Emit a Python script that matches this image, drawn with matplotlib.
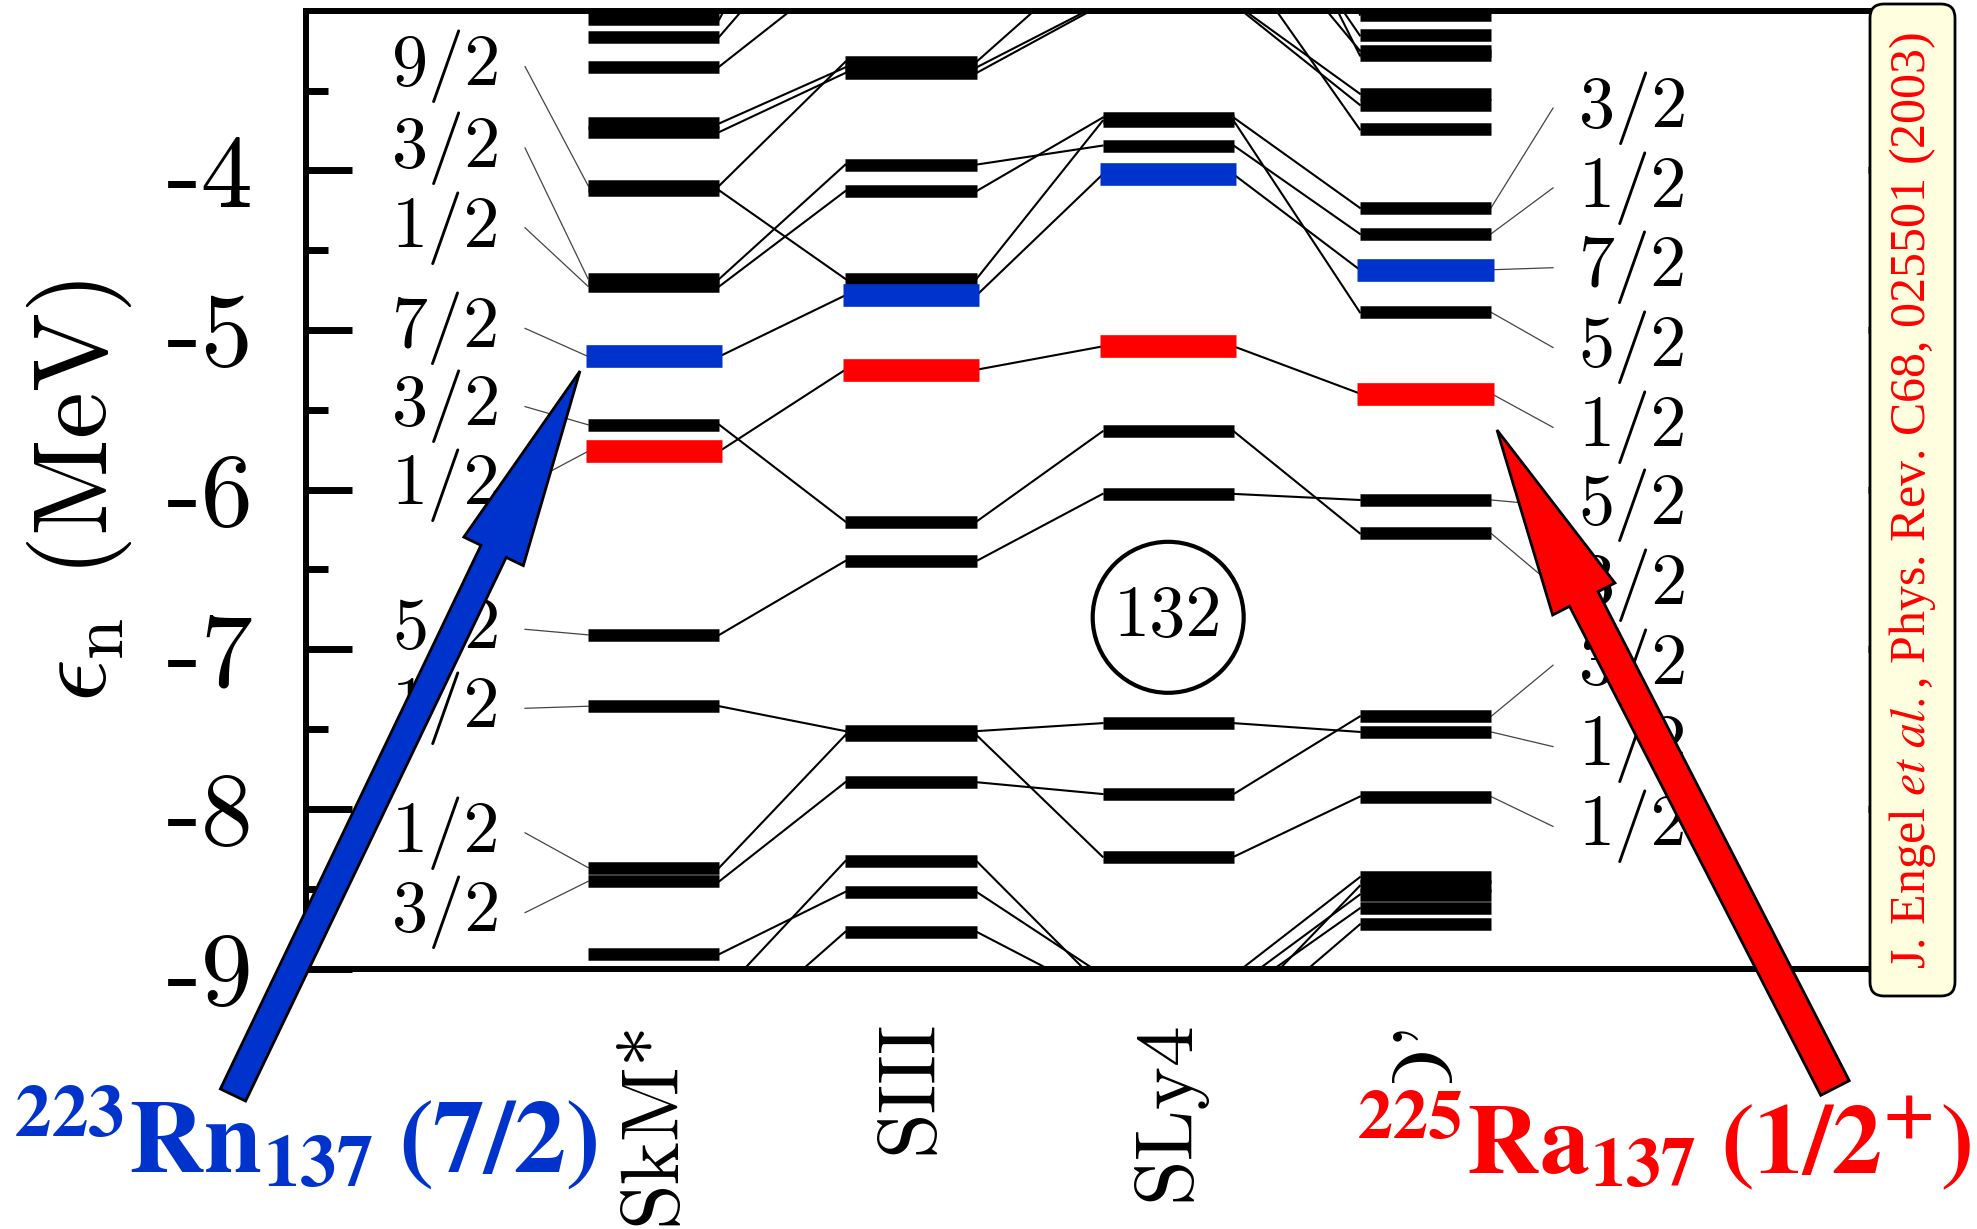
import numpy as np
import matplotlib
matplotlib.use('Agg')
import matplotlib.pyplot as plt
from matplotlib.patches import FancyArrow, FancyBboxPatch, Rectangle, Ellipse

plt.rcParams['mathtext.fontset'] = 'cm'
plt.rcParams['axes.unicode_minus'] = False

# neutron single-particle levels (MeV) for each Skyrme force
# (a few lie outside the -9..-3 window, only their connecting lines show)
forces = ['SkM*', 'SIII', 'SLy4', "SkO'"]
skm = [-3.055, -3.163, -3.35, -3.706, -3.76, -4.096, -4.126, -4.68, -4.727, -5.166,
       -5.594, -5.76, -6.91, -7.357, -8.368, -8.454, -8.91, -9.17, -9.465]
siii = [-1.5, -2.25, -2.73, -3.32, -3.355, -3.39, -3.964, -4.13, -4.68, -4.783,
        -5.249, -6.20, -6.447, -7.513, -7.538, -7.833, -8.327, -8.52, -8.77]
sly4 = [-1.0, -1.7, -2.0, -2.3, -2.62, -2.95, -2.96, -3.67, -3.69, -3.845, -4.026,
        -5.103, -5.635, -6.027, -7.463, -7.907, -8.30, -9.04, -9.12, -9.18, -9.3, -9.4]
sko = [-3.025, -3.155, -3.25, -3.28, -3.52, -3.59, -3.744, -4.235, -4.398, -4.623,
       -4.889, -5.398, -6.065, -6.274, -7.421, -7.518, -7.923, -8.428, -8.482,
       -8.537, -8.623, -8.724]
levels = [skm, siii, sly4, sko]

# level i in one column -> level j in the next
links_12 = [(0, 0), (1, 1), (2, 2), (3, 4), (4, 5), (5, 3), (6, 8), (7, 6), (8, 7),
            (9, 9), (10, 11), (11, 10), (12, 12), (13, 13), (14, 14), (15, 15),
            (16, 17), (17, 16), (18, 18)]
links_23 = [(0, 0), (1, 2), (2, 3), (3, 4), (4, 5), (5, 6), (6, 9), (7, 7), (8, 8),
            (9, 10), (10, 11), (11, 12), (12, 13), (13, 14), (14, 16), (15, 15),
            (16, 18), (17, 17), (18, 19)]
links_34 = [(0, 0), (2, 1), (3, 2), (1, 3), (5, 4), (6, 5), (4, 6), (7, 7), (8, 10),
            (9, 8), (10, 9), (11, 11), (12, 13), (13, 12), (14, 15), (15, 14),
            (16, 16), (17, 17), (18, 19), (19, 20), (20, 18), (21, 21)]
links = [links_12, links_23, links_34]

blue_idx = [9, 9, 10, 9]     # 7/2 level, 223Rn
red_idx = [11, 10, 11, 11]   # 1/2+ level, 225Ra

left_labels = ['9/2', '3/2', '1/2', '7/2', '3/2', '1/2', '5/2', '1/2', '1/2', '3/2']
left_label_e = [-3.35, -3.86, -4.36, -4.99, -5.48, -5.97, -6.875, -7.37, -8.15, -8.65]
left_label_lvl = [5, 7, 8, 9, 10, 11, 12, 13, 14, 15]
right_labels = ['3/2', '1/2', '7/2', '5/2', '1/2', '5/2', '3/2', '3/2', '1/2', '1/2']
right_label_e = [-3.61, -4.11, -4.61, -5.11, -5.61, -6.10, -6.60, -7.10, -7.61, -8.11]
right_label_lvl = [7, 8, 9, 10, 11, 12, 13, 14, 15, 16]

yticks = [-9, -8, -7, -6, -5, -4]
yminor = [-8.5, -7.5, -6.5, -5.5, -4.5, -3.5]

BLUE = '#0033cc'
RED = '#ff0000'

W, H = 1977, 1229
fig = plt.figure(figsize=(W / 100, H / 100), dpi=100)
ax = fig.add_axes([306.4 / W, 1 - 968.5 / H, 1607.8 / W, 957.8 / H])
ax.set_xlim(0, 6.25)
ax.set_ylim(-9, -3)

xc = np.array([1.35, 2.35, 3.35, 4.35])
hw = 0.255

# bars
for k, lv in enumerate(levels):
    for i, e in enumerate(lv):
        if i == blue_idx[k] or i == red_idx[k]:
            col = BLUE if i == blue_idx[k] else RED
            ax.hlines(e, xc[k] - hw - 0.01, xc[k] + hw + 0.01, color=col, lw=16.3, zorder=4)
        else:
            ax.hlines(e, xc[k] - hw, xc[k] + hw, color='black', lw=9, zorder=3)

# correlation lines
for k, lk in enumerate(links):
    for i, j in lk:
        ax.plot([xc[k] + hw, xc[k + 1] - hw], [levels[k][i], levels[k + 1][j]],
                color='black', lw=1.5, zorder=2)

# spin labels
for lab, e, i in zip(left_labels, left_label_e, left_label_lvl):
    ax.text(0.544, e, lab, ha='center', va='center', fontfamily='cmr10', fontsize=52)
    ax.plot([0.85, xc[0] - hw], [e, skm[i]], color='#444444', lw=0.9, zorder=2)
for lab, e, i in zip(right_labels, right_label_e, right_label_lvl):
    ax.text(5.157, e, lab, ha='center', va='center', fontfamily='cmr10', fontsize=52)
    ax.plot([xc[3] + hw, 4.846], [sko[i], e], color='#444444', lw=0.9, zorder=2)

# magic number
ax.add_patch(Ellipse((3.35, -6.80), 0.587, 0.946, fill=False, lw=3, color='black'))
ax.text(3.35, -6.80, str(132), ha='center', va='center', fontfamily='cmr10', fontsize=52)

ax.set_yticks(yticks)
ax.set_yticklabels([str(v) for v in yticks], fontfamily='cmr10', fontsize=75)
ax.set_yticks(yminor, minor=True)
ax.tick_params(axis='y', which='both', direction='in', left=True, right=True, width=5)
ax.tick_params(axis='y', which='major', length=33, pad=38)
ax.tick_params(axis='y', which='minor', length=16)
ax.set_xticks(xc)
ax.set_xticklabels(forces, rotation=90, fontfamily='cmr10', fontsize=59)
ax.tick_params(axis='x', which='both', length=0, pad=37)
for s in ax.spines.values():
    s.set_linewidth(4.3)

fig.text(80 / W, 1 - 491 / H, r'$\epsilon_{\rm n}$ (MeV)', rotation=90, ha='center',
         va='center', fontfamily='cmr10', fontsize=76)

# overlay in pixel coordinates for arrows and annotations
ov = fig.add_axes([0, 0, 1, 1], zorder=10)
ov.set_xlim(0, W)
ov.set_ylim(H, 0)
ov.axis('off')
ov.patch.set_alpha(0)

ov.add_patch(Rectangle((1346, 1083), W - 1346, H - 1083, fc='white', ec='none', zorder=1))
ov.add_patch(FancyBboxPatch((1870, 4), 85, 992, boxstyle='round,pad=0,rounding_size=14',
                            fc='#ffffe0', ec='black', lw=2, zorder=2))
ov.text(1912, 500, r'J. Engel $\mathit{et\ al.}$, Phys. Rev. C68, 025501 (2003)',
        rotation=90, ha='center', va='center', color=RED, fontsize=36,
        family='Liberation Serif', math_fontfamily='stix', zorder=3)

ov.add_patch(FancyArrow(233, 1095, 580 - 233, 371 - 1095, width=28, head_width=66,
                        head_length=200, length_includes_head=True, fc=BLUE,
                        ec='black', lw=2, zorder=5))
ov.add_patch(FancyArrow(1835, 1088, 1497 - 1835, 430 - 1088, width=32, head_width=70,
                        head_length=190, length_includes_head=True, fc=RED,
                        ec='black', lw=2, zorder=5))

ov.text(13, 1173, r'$^{\mathbf{223}}\mathbf{Rn}_{\mathbf{137}}\;\mathbf{(7/2)}$',
        ha='left', va='baseline', color=BLUE, fontsize=75, math_fontfamily='stix', zorder=4)
ov.text(1356, 1173, r'$^{\mathbf{225}}\mathbf{Ra}_{\mathbf{137}}\;\mathbf{(1/2^{+})}$',
        ha='left', va='baseline', color=RED, fontsize=72, math_fontfamily='stix', zorder=4)

fig.savefig('out.png', dpi=100)
